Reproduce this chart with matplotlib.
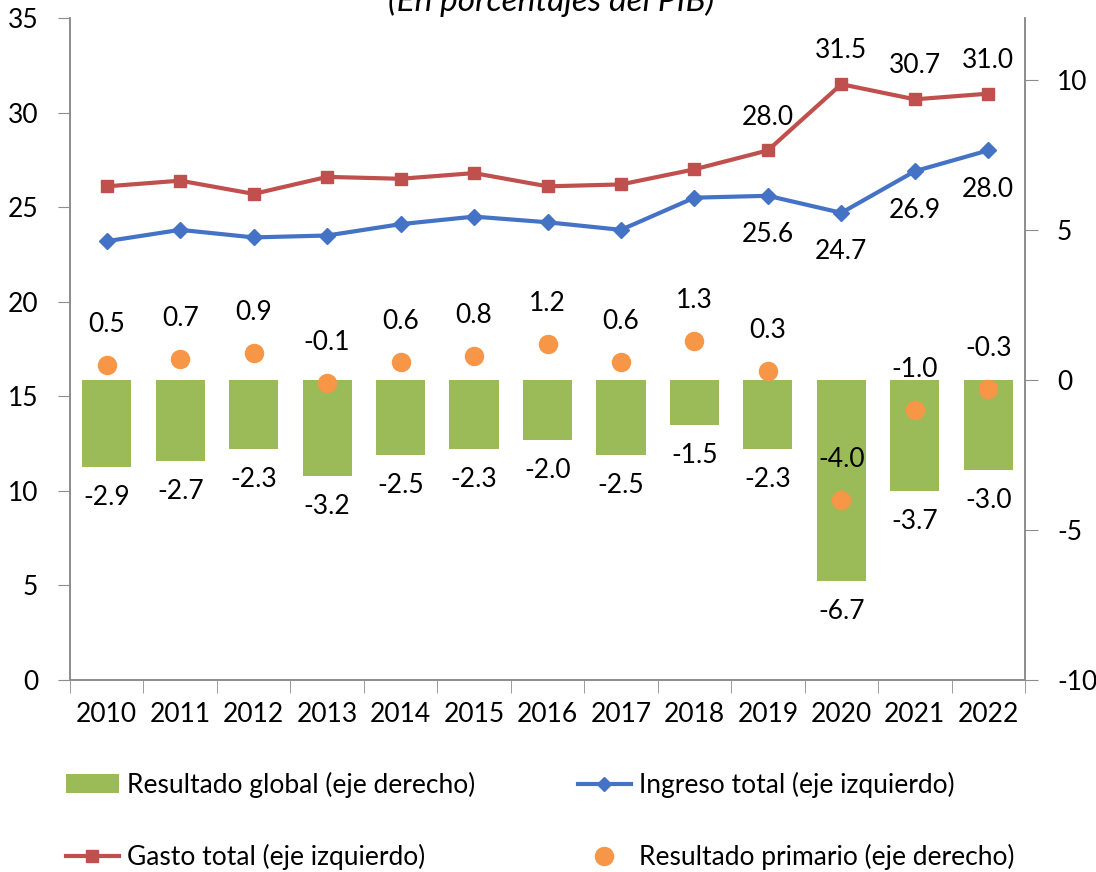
"""Ingresos, gastos y resultados fiscales (En porcentajes del PIB)."""

import matplotlib

matplotlib.use("Agg")

import matplotlib.pyplot as plt
import numpy as np
from matplotlib.lines import Line2D
from matplotlib.patches import Patch

years = ["2010", "2011", "2012", "2013", "2014", "2015", "2016",
         "2017", "2018", "2019", "2020", "2021", "2022"]
ingreso = [23.2, 23.8, 23.4, 23.5, 24.1, 24.5, 24.2, 23.8, 25.5, 25.6, 24.7, 26.9, 28.0]
gasto = [26.1, 26.4, 25.7, 26.6, 26.5, 26.8, 26.1, 26.2, 27.0, 28.0, 31.5, 30.7, 31.0]
global_res = [-2.9, -2.7, -2.3, -3.2, -2.5, -2.3, -2.0, -2.5, -1.5, -2.3, -6.7, -3.7, -3.0]
primario = [0.5, 0.7, 0.9, -0.1, 0.6, 0.8, 1.2, 0.6, 1.3, 0.3, -4.0, -1.0, -0.3]
labelled_years = ["2019", "2020", "2021", "2022"]

GREEN = "#9BBB59"
BLUE = "#4472C4"
RED = "#C0504D"
ORANGE = "#F79646"
AXIS = "#8C8C8C"
FS = 19

plt.rcParams["font.family"] = ["Lato", "DejaVu Sans"]

fig = plt.figure(figsize=(10.96, 8.72), dpi=100)
ax = fig.add_axes([70 / 1096, 1 - 680 / 872, 955 / 1096, 662 / 872])
ax2 = ax.twinx()

x = np.arange(len(years))

# right axis: bars and primary result
ax2.bar(x, global_res, width=0.67, color=GREEN, zorder=2)
ax2.plot(x, primario, "o", color=ORANGE, markersize=13, zorder=3)

# left axis: income and expenditure
ax.plot(x, gasto, color=RED, linewidth=3, marker="s", markersize=8.5, zorder=3)
ax.plot(x, ingreso, color=BLUE, linewidth=3, marker="D", markersize=8, zorder=3)

ax.set_xlim(-0.5, len(years) - 0.5)
ax.set_ylim(0, 35)
ax2.set_ylim(-10, 12.07)
ax.set_yticks(np.arange(0, 36, 5))
ax2.set_yticks([-10, -5, 0, 5, 10])
ax2.set_yticklabels(["-10", "-5", "0", "5", "10"])

ax.set_xticks(x)
ax.set_xticklabels(years)
ax.set_xticks(np.arange(-0.5, len(years), 1), minor=True)
ax.tick_params(axis="x", which="major", length=0, pad=16, labelsize=FS)
ax.tick_params(axis="x", which="minor", length=9, color=AXIS, direction="out")
ax.tick_params(axis="y", length=9, color=AXIS, labelsize=FS, pad=14)
ax2.tick_params(axis="y", length=9, color=AXIS, labelsize=FS, pad=14)

for a in (ax, ax2):
    a.spines["top"].set_visible(False)
    for s in ("left", "right", "bottom"):
        a.spines[s].set_color(AXIS)
        a.spines[s].set_linewidth(1.2)

# data labels
for i, y in enumerate(years):
    ax2.annotate(f"{global_res[i]:.1f}", (i, global_res[i]), xytext=(0, -22),
                 textcoords="offset points", ha="center", va="center", fontsize=FS)
    ax2.annotate(f"{primario[i]:.1f}", (i, primario[i]), xytext=(0, 29),
                 textcoords="offset points", ha="center", va="center", fontsize=FS)
    if y in labelled_years:
        ax.annotate(f"{gasto[i]:.1f}", (i, gasto[i]), xytext=(0, 24),
                    textcoords="offset points", ha="center", va="center", fontsize=FS)
        ax.annotate(f"{ingreso[i]:.1f}", (i, ingreso[i]), xytext=(0, -28),
                    textcoords="offset points", ha="center", va="center", fontsize=FS)

fig.text(551 / 1096, 1 - 11 / 872, "(En porcentajes del PIB)", ha="center",
         va="baseline", fontsize=24, style="italic")

handles = [
    Patch(facecolor=GREEN),
    Line2D([], [], color=RED, linewidth=3, marker="s", markersize=8),
    Line2D([], [], color=BLUE, linewidth=3, marker="D", markersize=7),
    Line2D([], [], color=ORANGE, linestyle="none", marker="o", markersize=13),
]
labels = [
    "Resultado global (eje derecho)",
    "Gasto total (eje izquierdo)",
    "Ingreso total (eje izquierdo)",
    "Resultado primario (eje derecho)",
]
fig.legend(handles, labels, ncol=2, loc="center",
           bbox_to_anchor=(0.5 - 8 / 1096, 1 - 821 / 872),
           frameon=False, fontsize=FS, handlelength=2.0, handleheight=0.7,
           handletextpad=0.3, columnspacing=3.9, labelspacing=1.75)

fig.savefig("out.png", dpi=100)
